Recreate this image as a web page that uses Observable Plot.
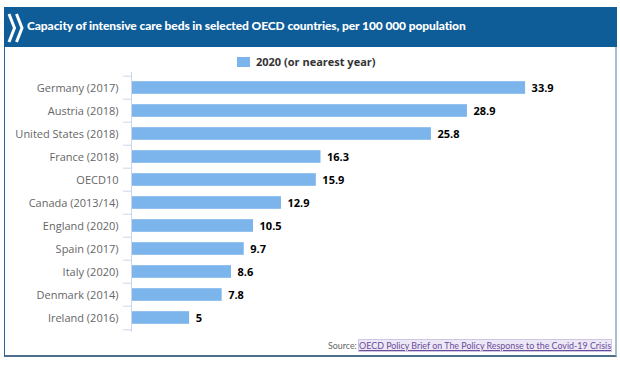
<!DOCTYPE html>
<html>
<head>
<meta charset="utf-8">
<script src="https://cdn.jsdelivr.net/npm/d3@7"></script>
<script src="https://cdn.jsdelivr.net/npm/@observablehq/plot@0.6"></script>
<style>
  html, body { margin: 0; padding: 0; background: #fff; }
  body { width: 620px; height: 368px; position: relative; overflow: hidden; font-family: "Open Sans", "DejaVu Sans", sans-serif; }
  #frame { position: absolute; left: 4px; top: 7px; width: 610px; height: 348px; border-left: 1px solid #2a6499; border-right: 2px solid #a8bdd0; border-bottom: 2px solid #4d6f8d; box-sizing: content-box; }
  #header { position: absolute; left: 4px; top: 7px; width: 613px; height: 40px; background: #0e5c98; }
  #logo { position: absolute; left: 7px; top: 12px; }
  #title { position: absolute; left: 27px; top: 18px; color: #fff; font-family: Lato, "Open Sans", sans-serif; font-weight: 900; font-size: 12px; white-space: nowrap; letter-spacing: -0.1px; }
  #legend { position: absolute; left: 237px; top: 54px; display: flex; align-items: center; font-size: 11px; font-weight: bold; color: #333; white-space: nowrap; }
  #legend .sw { width: 13px; height: 10px; background: #7cb5ec; margin-right: 6px; }
  #chart { position: absolute; left: 0; top: 65px; }
  #source { position: absolute; right: 9px; top: 340px; font-family: Lato, "Open Sans", sans-serif; font-size: 8.9px; color: #666; white-space: nowrap; }
  #source a { color: #6b4c9a; text-decoration: underline; background: #ece8f6; outline: 1px solid #cfc6e6; }
</style>
</head>
<body>
<div id="frame"></div>
<div id="header"></div>
<svg id="logo" width="18" height="32" viewBox="0 0 18 32">
  <path d="M2 2 L7.5 16 L2 30" fill="none" stroke="#fff" stroke-width="3"/>
  <path d="M9.5 2 L15 16 L9.5 30" fill="none" stroke="#fff" stroke-width="3"/>
</svg>
<div id="title">Capacity of intensive care beds in selected OECD countries, per 100 000 population</div>
<div id="legend"><div class="sw"></div><span>2020 (or nearest year)</span></div>
<div id="chart"></div>
<div id="source">Source: <a href="#">OECD Policy Brief on The Policy Response to the Covid-19 Crisis</a></div>
<script>
const countries = [
  "Germany (2017)", "Austria (2018)", "United States (2018)", "France (2018)",
  "OECD10", "Canada (2013/14)", "England (2020)", "Spain (2017)",
  "Italy (2020)", "Denmark (2014)", "Ireland (2016)"
];
const values = [33.9, 28.9, 25.8, 16.3, 15.9, 12.9, 10.5, 9.7, 8.6, 7.8, 5];
const seriesName = "2020 (or nearest year)";

const data = countries.map((c, i) => ({country: c, value: values[i]}));

const W = 620, H = 275, mL = 131, mR = 24, mT = 7, mB = 8;
const xMax = 40;
const step = (H - mT - mB) / countries.length;
const tickLen = 8 / ((W - mL - mR) / xMax);

const chart = Plot.plot({
  width: W, height: H,
  marginLeft: mL, marginRight: mR, marginTop: mT, marginBottom: mB,
  style: {fontFamily: '"Open Sans", "DejaVu Sans", sans-serif', fontSize: "11px", background: "transparent"},
  x: {domain: [0, xMax], axis: null},
  y: {domain: countries, padding: 0, label: null},
  marks: [
    Plot.barX(data, {y: "country", x: "value", fill: "#7cb5ec", insetTop: 5.2, insetBottom: 5.2}),
    Plot.text(data, {y: "country", x: "value", text: d => String(d.value), dx: 6, textAnchor: "start", fontWeight: "bold", fill: "#000"}),
    Plot.ruleX([0], {stroke: "#ccd6eb"}),
    Plot.ruleY(countries, {y: d => d, x1: -tickLen, x2: 0, dy: -step / 2, stroke: "#ccd6eb"}),
    Plot.ruleY([countries[countries.length - 1]], {y: d => d, x1: -tickLen, x2: 0, dy: step / 2, stroke: "#ccd6eb"}),
    Plot.axisY({tickSize: 0, tickPadding: 13, fill: "#666", fontSize: 11})
  ]
});
document.getElementById("chart").appendChild(chart);
document.getElementById("legend").querySelector("span").textContent = seriesName;
</script>
</body>
</html>
